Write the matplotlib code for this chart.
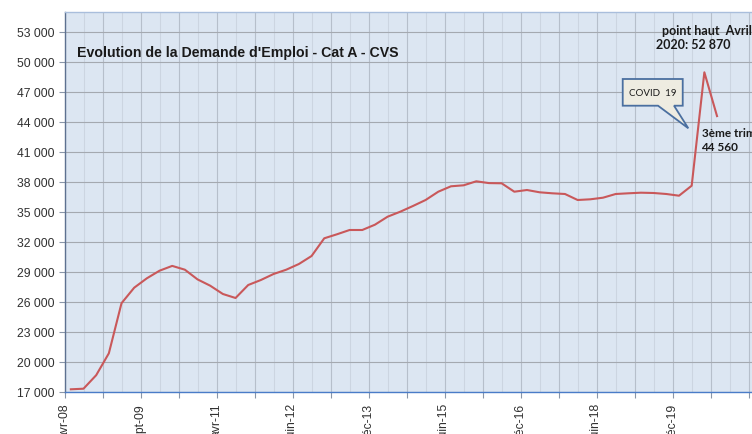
import matplotlib
matplotlib.use("Agg")
import matplotlib.pyplot as plt
from matplotlib.patches import Polygon
from matplotlib.ticker import MultipleLocator, FuncFormatter

# demande d'emploi cat A - CVS (valeurs trimestrielles)
demande = [17240, 17300, 18650, 20840, 25850, 27400, 28340, 29100, 29580, 29200,
           28230, 27600, 26770, 26370, 27670, 28170, 28770, 29200, 29770, 30570,
           32340, 32740, 33170, 33170, 33700, 34500, 35000, 35570, 36170, 37000,
           37540, 37640, 38040, 37860, 37840, 37000, 37170, 36940, 36840, 36770,
           36170, 36240, 36400, 36770, 36840, 36900, 36870, 36770, 36600, 37600,
           48940, 44560]
labels = ["avr-08", "sept-09", "avr-11", "juin-12", "déc-13",
          "juin-15", "déc-16", "juin-18", "déc-19"]
label_pos = [0, 6, 12, 18, 24, 30, 36, 42, 48]

fig = plt.figure(figsize=(7.52, 4.35), dpi=100)
ax = fig.add_axes([64.5 / 752, (435 - 392.7) / 435, 1 - 64.5 / 752, 380 / 435])
ax.set_facecolor("#dce6f2")

x = [i + 0.5 for i in range(len(demande))]
ax.plot(x, demande, color="#c9585a", lw=1.5, zorder=3)

ax.set_xlim(0, 54.26)
ax.set_ylim(17000, 55000)

ax.set_yticks(range(17000, 53001, 3000))
ax.yaxis.set_major_formatter(FuncFormatter(lambda v, p: "{:,}".format(int(v)).replace(",", " ")))
ax.xaxis.set_minor_locator(MultipleLocator(1.5))
ax.set_xticks([i * 3 for i in range(19)])
ax.set_xticklabels([labels[label_pos.index(t)] if t in label_pos else "" for t in range(0, 55, 3)],
                   rotation=90, fontsize=8.7, family="Liberation Sans", color="#303030")
ax.tick_params(axis="x", which="major", length=4, width=0.8, color="#8a96a8", pad=4)
ax.tick_params(axis="x", which="minor", length=0)
ax.tick_params(axis="y", length=4, width=0.8, color="#8a96a8", pad=3, labelsize=8.7, labelcolor="#303030")
for t in ax.get_yticklabels():
    t.set_family("Liberation Sans")

ax.grid(axis="y", which="major", color="#a4a9b0", lw=0.8, zorder=1)
ax.grid(axis="x", which="major", color="#b6bfcb", lw=0.8, zorder=1)
ax.grid(axis="x", which="minor", color="#ccd5e1", lw=0.8, zorder=1)
ax.set_axisbelow(True)

ax.spines["left"].set_color("#5d7190")
ax.spines["bottom"].set_color("#4a7cc8")
ax.spines["top"].set_color("#a9bedc")
ax.spines["right"].set_visible(False)
for s in ["left", "bottom", "top"]:
    ax.spines[s].set_linewidth(1.0)

# titre
fig.text(77 / 752, 1 - 53.5 / 435, "Evolution de la Demande d'Emploi - Cat A - CVS",
         fontsize=10.2, fontweight="bold", family="Liberation Sans", va="center", ha="left", color="#1a1a1a")

# annotations
fig.text(662 / 752, 1 - 30.7 / 435, "point haut  Avril", fontsize=9, fontweight="bold",
         family="Lato", va="center", ha="left", color="#1a1a1a")
fig.text(656.5 / 752, 1 - 45 / 435, "2020: 52 870", fontsize=9, fontweight="bold",
         family="Lato", va="center", ha="left", color="#1a1a1a")
fig.text(701.5 / 752, 1 - 133.3 / 435, "3ème trim", fontsize=8.5, fontweight="bold",
         family="Lato", va="center", ha="left", color="#1a1a1a")
fig.text(701.5 / 752, 1 - 147.3 / 435, "44 560", fontsize=8.5, fontweight="bold",
         family="Lato", va="center", ha="left", color="#1a1a1a")

# bulle COVID 19
def px(xp, yp):
    return ((xp - 64.5) / 12.67, 17000 + (392.7 - yp) * 100)

bulle = [px(622.7, 80), px(682.7, 80), px(682.7, 106.7), px(674, 106.7), px(688.3, 129.3),
         px(658, 106.7), px(622.7, 106.7)]
ax.add_patch(Polygon(bulle, closed=True, facecolor="#eeece1", edgecolor="#4a6fa0", lw=1.3, zorder=4))
bx, by = px(652.7, 93.3)
ax.text(bx, by, "COVID  19", fontsize=7, family="Lato", ha="center", va="center", color="#1a1a1a", zorder=5)

fig.savefig("out.png", dpi=100)
